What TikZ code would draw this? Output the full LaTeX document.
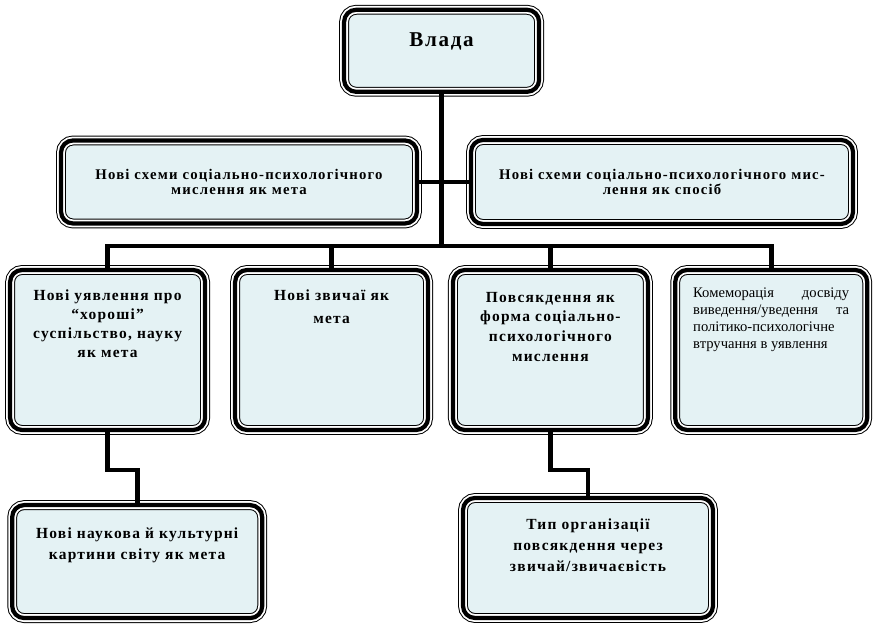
\documentclass[tikz,border=0pt]{standalone}
\usepackage{fontspec}
\setmainfont{Liberation Serif}[BoldFeatures={LetterSpace=8}]
\usetikzlibrary{positioning,calc}
\definecolor{boxfill}{RGB}{228,242,244}
% text block of fixed size, set from the top
\newcommand{\celltext}[4]{\begin{minipage}[c][#2][t]{#1}\vspace*{#3}\centering #4\end{minipage}}

\begin{document}
\begin{tikzpicture}[link/.style={draw=black, line width=3.5pt}]
   \useasboundingbox (0,0) rectangle (21.9,15.6);
   \begin{scope}[every node/.style={rectangle, rounded corners=0.3cm, fill=boxfill,
       inner xsep=0.3cm, inner ysep=0pt, font=\bfseries\fontsize{11}{13.5}\selectfont,
       postaction={draw=black, line width=7pt},
       postaction={draw=white, line width=5.6pt},
       postaction={draw=black, line width=3pt}}]
    \node (vlada) at (11.04,14.33) {\celltext{4.275cm}{2.05cm}{0.58cm}{\fontsize{15}{18}\selectfont Влада}};
    \node (schemegoal) [text width=8.3cm, minimum height=2.075cm, align=center,
       font=\bfseries\fontsize{10.5}{11}\selectfont] at (5.975,11.05)
       {Нові схеми соціально-психологічного\\мислення як мета};
    \node (schemeway) [text width=8.95cm, minimum height=2.1cm, align=center,
       font=\bfseries\fontsize{10.5}{11}\selectfont] at (16.55,11.05)
       {Нові схеми соціально-психологічного мис-\\лення як спосіб};
    \node (views) at (2.69,6.85) {\celltext{4.275cm}{4cm}{0.5cm}{Нові уявлення про\\“хороші”\\суспільство, науку\\як мета}};
    \node (customs) at (8.29,6.85) {\celltext{4.225cm}{4cm}{0.5cm}{Нові звичаї як\\[3pt]мета}};
    \node (everyday) at (13.76,6.85) {\celltext{4.275cm}{4cm}{0.55cm}{\fontsize{11}{14}\selectfont Повсякдення як\\форма соціально-\\психологічного\\мислення}};
    \node (commem) [inner xsep=0.45cm, font=\fontsize{10.4}{12}\selectfont] at (19.28,6.85)
       {\celltext{3.9cm}{4cm}{0.45cm}{\raggedright Комеморація\hfill досвіду\\виведення/уведення\hfill та\\політико-психологічне\\втручання в уявлення}};
    \node (pictures) at (3.43,1.56) {\celltext{5.65cm}{2.825cm}{0.57cm}{\fontsize{11}{15}\selectfont Нові наукова й культурні\\картини світу як мета}};
    \node (orgtype) at (14.7,1.65) {\celltext{5.65cm}{3cm}{0.52cm}{\fontsize{11}{15}\selectfont Тип організації\\повсякдення через\\звичай/звичаєвість}};
   \end{scope}
   \coordinate (bus) at (11.04,9.45);
   \coordinate (kink) at (0,3.85);
   \draw[link] (vlada.south) -- (vlada.south |- bus);
   \draw[link] (schemegoal.east) -- (schemeway.west);
   \draw[link] (views.north) |- (bus) -| (commem.north);
   \draw[link] (customs.north) -- (customs.north |- bus);
   \draw[link] (everyday.north) -- (everyday.north |- bus);
   \draw[link] (views.south) |- (pictures.north |- kink) -- (pictures.north);
   \draw[link] (everyday.south) |- (orgtype.north |- kink) -- (orgtype.north);
\end{tikzpicture}
\end{document}
